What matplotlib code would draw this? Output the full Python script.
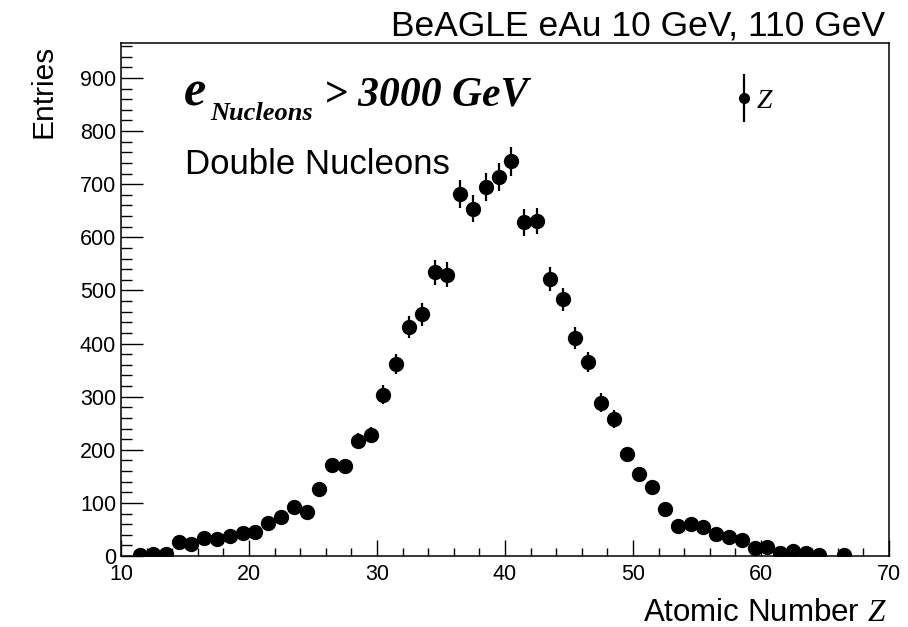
import numpy as np
import matplotlib
matplotlib.use("Agg")
import matplotlib.pyplot as plt
from matplotlib.legend_handler import HandlerErrorbar
from matplotlib.container import ErrorbarContainer

plt.rcParams['font.family'] = ['Liberation Sans', 'DejaVu Sans']
plt.rcParams['mathtext.fontset'] = 'custom'
plt.rcParams['mathtext.it'] = 'Liberation Serif:italic'
plt.rcParams['mathtext.rm'] = 'Liberation Serif'

# Histogram of atomic number Z (unit-width bins starting at each Z)
z_bins = list(range(11, 67))
entries = [2, 3, 4, 26, 22, 33, 32, 38, 43, 45,
           62, 73, 93, 83, 127, 171, 170, 217, 228, 304,
           361, 431, 455, 534, 530, 682, 654, 695, 713, 743,
           628, 631, 521, 483, 410, 365, 289, 258, 192, 154,
           129, 89, 57, 60, 55, 42, 36, 30, 16, 17,
           6, 9, 6, 2, 0, 1]

x_range = (10, 70)
y_max = 1.3 * max(entries)

W, H = 908, 627
fig = plt.figure(figsize=(W / 100, H / 100), dpi=100)
ax = fig.add_axes([121 / W, 1 - 556 / H, (889 - 121) / W, (556 - 43) / H])

z = np.array(z_bins, dtype=float)
n = np.array(entries, dtype=float)
mask = n > 0
centers = z[mask] + 0.5
counts = n[mask]
errs = np.sqrt(counts)

cont = ax.errorbar(centers, counts, yerr=errs, fmt='o', color='black',
                   markersize=10, elinewidth=1.6, capsize=0, label='$Z$')

ax.set_xlim(*x_range)
ax.set_ylim(0, y_max)
ax.set_xticks(np.arange(10, 71, 10))
ax.set_xticks(np.arange(10, 71, 2), minor=True)
ax.set_yticks(np.arange(0, 901, 100))
ax.set_yticks(np.arange(0, y_max, 20), minor=True)

ax.tick_params(axis='both', which='both', direction='in', width=1.0,
               labelsize=15.5, colors='black')
ax.tick_params(axis='y', which='major', length=15.5, pad=3.5)
ax.tick_params(axis='y', which='minor', length=7.8)
ax.tick_params(axis='x', which='major', length=11.5, pad=6)
ax.tick_params(axis='x', which='minor', length=5.8)
for sp in ax.spines.values():
    sp.set_linewidth(1.1)

# Axis titles
fig.text(887 / W, 1 - 621 / H, 'Atomic Number $Z$', ha='right', va='baseline',
         fontsize=22.5)
fig.text(52 / W, 1 - 45 / H, 'Entries', rotation=90, rotation_mode='anchor',
         ha='right', va='baseline', fontsize=21.5)

# Title
fig.text(885 / W, 1 - 35 / H, 'BeAGLE eAu 10 GeV, 110 GeV', ha='right',
         va='baseline', fontsize=25.5)

# Selection labels
serif_bi = dict(family='Liberation Serif', weight='bold', style='italic')
fig.text(184 / W, 1 - 106 / H, 'e', fontsize=36, va='baseline', **serif_bi)
fig.text(210 / W, 1 - 120 / H, 'Nucleons', fontsize=19, va='baseline', **serif_bi)
fig.text(324 / W, 1 - 106 / H, '> 3000 GeV', fontsize=30, va='baseline', **serif_bi)
fig.text(185 / W, 1 - 174 / H, 'Double Nucleons', fontsize=25, va='baseline')

leg = ax.legend(handles=[cont], labels=['$Z$'], loc='center left',
                bbox_to_anchor=(735 / W, 1 - 101 / H),
                bbox_transform=fig.transFigure, frameon=False,
                handlelength=0.65, handletextpad=0.1, borderpad=0,
                borderaxespad=0, markerscale=0.7, fontsize=20,
                handler_map={ErrorbarContainer: HandlerErrorbar(xerr_size=0.4, yerr_size=0.87)})

fig.savefig('out.png', dpi=100)
